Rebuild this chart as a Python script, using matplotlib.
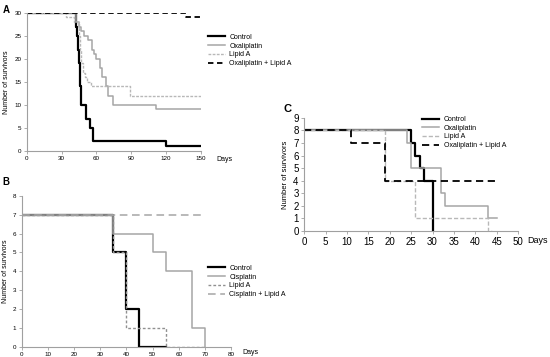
import matplotlib.pyplot as plt

plt.rcParams['font.family'] = ['Liberation Sans', 'DejaVu Sans']

# ---- Panel A: oxaliplatin, 30 mice per group ----
a_ctrl_t = [0, 42, 43, 44, 45, 45.5, 46, 47, 51, 54, 57, 120, 150]
a_ctrl_n = [30, 27, 25, 22, 19, 16, 14, 10, 7, 5, 2, 1, 1]
a_oxa_t = [0, 42, 45, 47, 49, 53, 56, 58, 60, 63, 64.5, 68, 70, 74, 111, 150]
a_oxa_n = [30, 28, 27, 26, 25, 24, 22, 21, 20, 18, 16, 14, 12, 10, 9, 9]
a_lipa_t = [0, 34, 41, 45, 46, 47, 48, 50, 52, 55, 60, 89, 150]
a_lipa_n = [30, 29, 28, 25, 22, 19, 17, 16, 15, 14, 14, 12, 12]
a_combo_t = [0, 137, 150]
a_combo_n = [30, 29, 29]

# ---- Panel B: cisplatin ----
b_ctrl_t = [0, 35, 40, 45, 55]
b_ctrl_n = [7, 5, 2, 0, 0]
b_cis_t = [0, 35, 50, 55, 65, 70, 70]
b_cis_n = [7, 6, 5, 4, 1, 0, 0]
b_lipa_t = [0, 35, 40, 55, 70]
b_lipa_n = [7, 5, 1, 0, 0]
b_combo_t = [0, 70]
b_combo_n = [7, 7]

# ---- Panel C: oxaliplatin, 8 mice per group ----
c_ctrl_t = [0, 25, 26, 27, 28, 30]
c_ctrl_n = [8, 7, 6, 5, 4, 0]
c_oxa_t = [0, 24, 25, 32, 33, 43, 45]
c_oxa_n = [8, 7, 5, 3, 2, 1, 1]
c_lipa_t = [0, 19, 26, 43, 44]
c_lipa_n = [8, 4, 1, 0, 0]
c_combo_t = [0, 11, 19, 45]
c_combo_n = [8, 7, 4, 4]

spine_col = '#a0a0a0'
gray = '#a6a6a6'
light = '#b8b8b8'

fig = plt.figure(figsize=(5.5, 3.57), dpi=100)


def style_axes(ax, fs):
    for s in ['top', 'right']:
        ax.spines[s].set_visible(False)
    for s in ['left', 'bottom']:
        ax.spines[s].set_color(spine_col)
        ax.spines[s].set_linewidth(0.8)
    ax.tick_params(labelsize=fs, length=2, width=0.6, color=spine_col, pad=2)


# Panel A
axA = fig.add_axes([0.049, 0.578, 0.316, 0.386])
axA.step(a_ctrl_t, a_ctrl_n, where='post', color='black', lw=1.6, label='Control')
axA.step(a_oxa_t, a_oxa_n, where='post', color=gray, lw=1.1, label='Oxaliplatin')
axA.step(a_lipa_t, a_lipa_n, where='post', color=light, lw=1.0, ls=(0, (2, 1)), label='Lipid A')
axA.step(a_combo_t, a_combo_n, where='post', color='black', lw=1.3, ls=(0, (3, 2)),
         label='Oxaliplatin + Lipid A')
axA.set_xlim(0, 150)
axA.set_ylim(0, 30)
axA.set_xticks(range(0, 151, 30))
axA.set_yticks(range(0, 31, 5))
style_axes(axA, 4.5)
axA.set_ylabel('Number of survivors', fontsize=5, labelpad=3)
fig.text(0.394, 0.552, 'Days', fontsize=5, va='center')
fig.text(0.005, 0.985, 'A', fontsize=7, fontweight='bold', va='top')
axA.legend(loc='upper left', bbox_to_anchor=(0.378, 0.905), bbox_transform=fig.transFigure,
           fontsize=5, frameon=False, handlelength=2.4, handletextpad=0.7, labelspacing=0.25,
           borderpad=0, borderaxespad=0)

# Panel B
axB = fig.add_axes([0.0395, 0.029, 0.3805, 0.422])
axB.step(b_ctrl_t, b_ctrl_n, where='post', color='black', lw=1.6, label='Control')
axB.step(b_cis_t, b_cis_n, where='post', color=gray, lw=1.1, label='Cisplatin')
axB.step(b_lipa_t, b_lipa_n, where='post', color='#909090', lw=1.0, ls=(0, (2, 1.5)), label='Lipid A')
axB.step(b_combo_t, b_combo_n, where='post', color=gray, lw=1.1, ls=(0, (5, 3)),
         label='Cisplatin + Lipid A')
axB.set_xlim(0, 80)
axB.set_ylim(0, 8)
axB.set_xticks(range(0, 81, 10))
axB.set_yticks(range(0, 9))
style_axes(axB, 4.5)
axB.set_ylabel('Number of survivors', fontsize=5, labelpad=3)
fig.text(0.44, 0.012, 'Days', fontsize=5, va='center')
fig.text(0.005, 0.505, 'B', fontsize=7, fontweight='bold', va='top')
axB.legend(loc='upper left', bbox_to_anchor=(0.378, 0.258), bbox_transform=fig.transFigure,
           fontsize=5, frameon=False, handlelength=2.4, handletextpad=0.7, labelspacing=0.25,
           borderpad=0, borderaxespad=0)

# Panel C
axC = fig.add_axes([0.553, 0.353, 0.389, 0.317])
axC.step(c_ctrl_t, c_ctrl_n, where='post', color='black', lw=1.6, label='Control')
axC.step(c_oxa_t, c_oxa_n, where='post', color=gray, lw=1.1, label='Oxaliplatin')
axC.step(c_lipa_t, c_lipa_n, where='post', color=light, lw=1.0, ls=(0, (3, 1.5)), label='Lipid A')
axC.step(c_combo_t, c_combo_n, where='post', color='black', lw=1.3, ls=(0, (4, 2.5)),
         label='Oxaliplatin + Lipid A')
axC.set_xlim(0, 50)
axC.set_ylim(0, 9)
axC.set_xticks(range(0, 51, 5))
axC.set_yticks(range(0, 10))
style_axes(axC, 7)
axC.set_ylabel('Number of survivors', fontsize=5.5, labelpad=3)
fig.text(0.958, 0.325, 'Days', fontsize=6.5, va='center')
fig.text(0.515, 0.71, 'C', fontsize=8, fontweight='bold', va='top')
axC.legend(loc='upper left', bbox_to_anchor=(0.768, 0.675), bbox_transform=fig.transFigure,
           fontsize=5, frameon=False, handlelength=2.4, handletextpad=0.7, labelspacing=0.25,
           borderpad=0, borderaxespad=0)

fig.savefig('out.png', dpi=100)
